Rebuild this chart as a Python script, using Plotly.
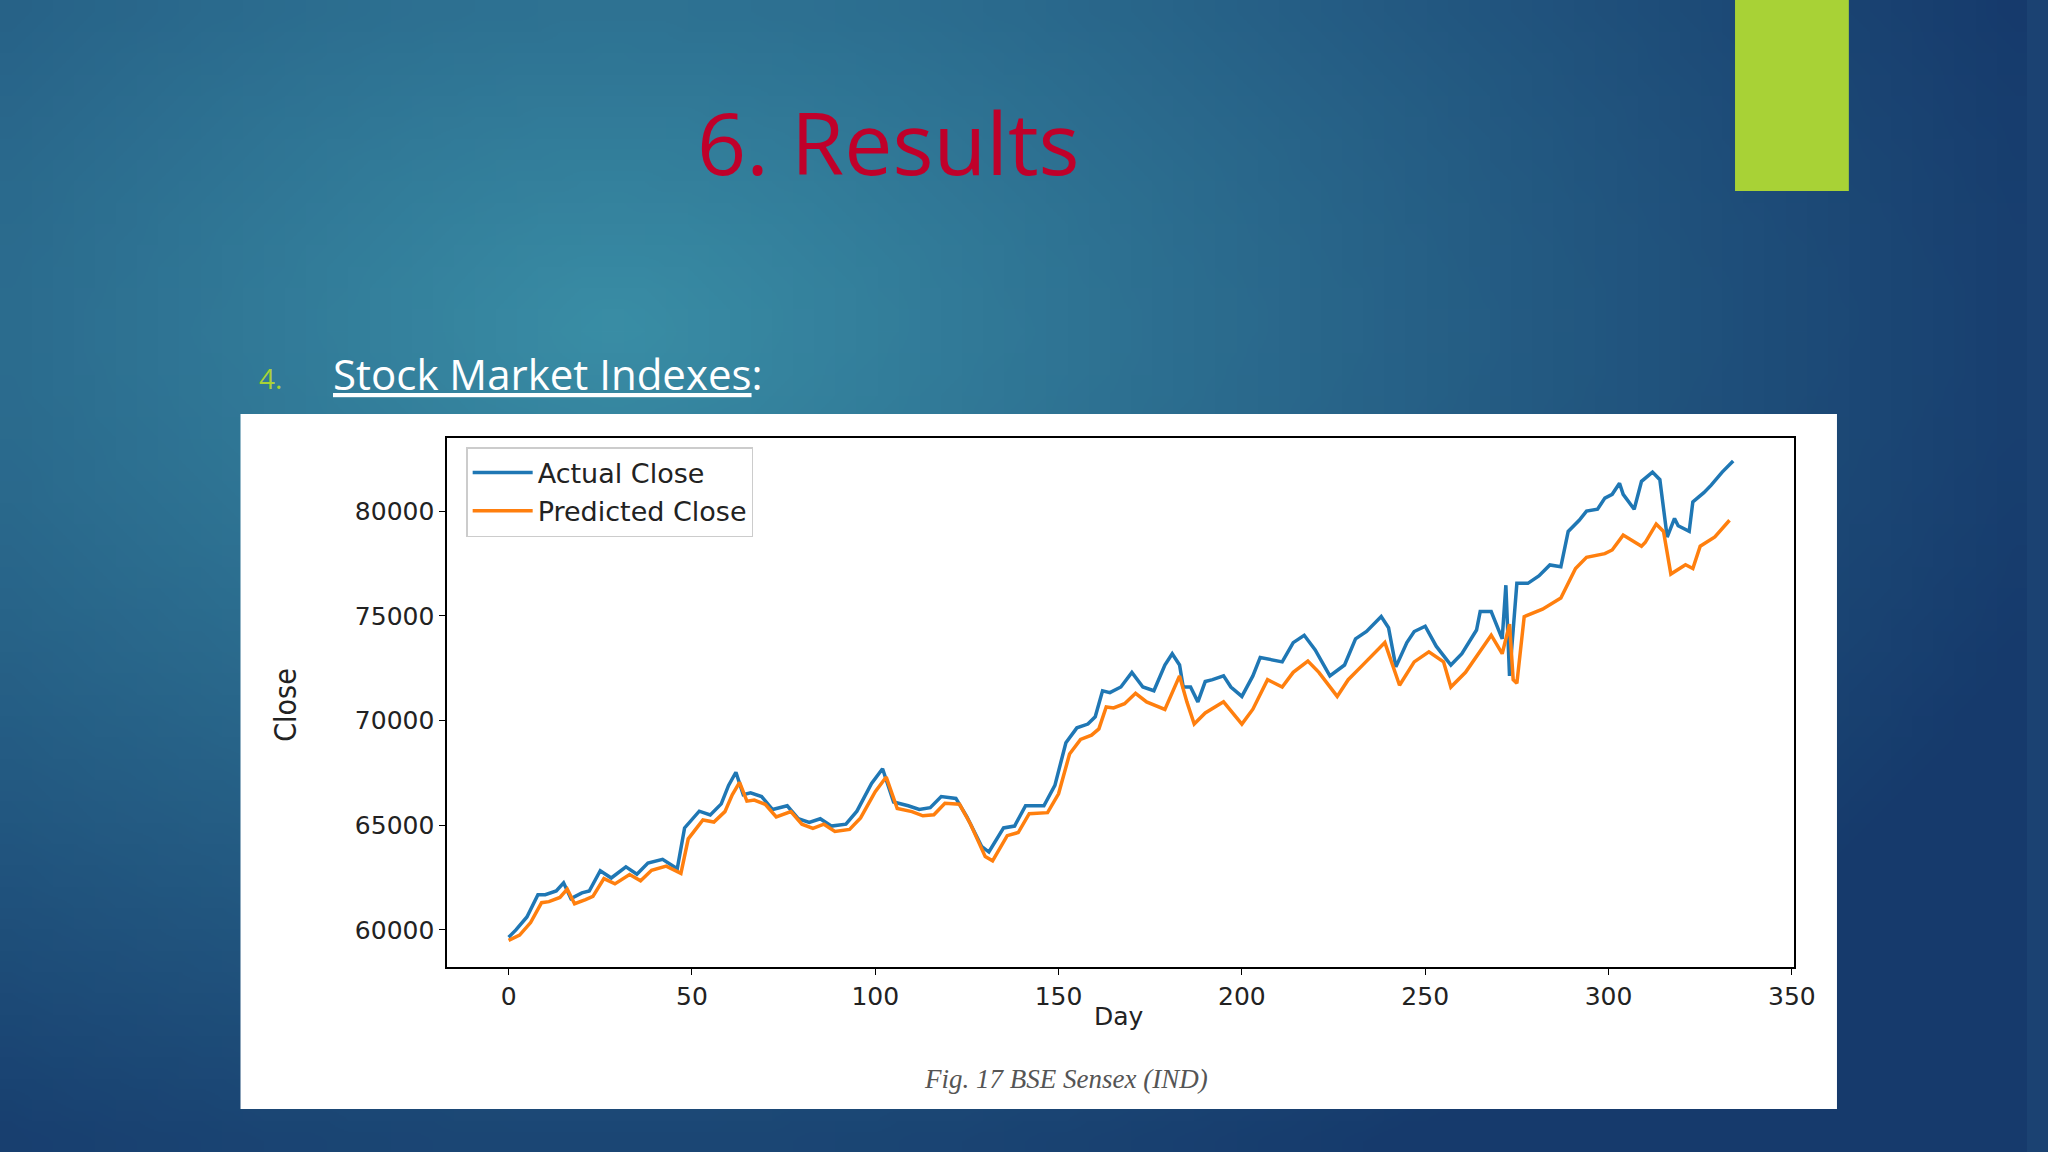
import base64, struct, zlib
import plotly.graph_objects as go

# ---------------- data ----------------
days_actual = [0, 2, 5, 7, 8, 10, 13, 15, 17, 20, 22, 25, 28, 32, 35, 38, 42, 46, 48, 52, 55, 58, 60, 62, 64, 66,
               69, 72, 76, 79, 82, 85, 88, 92, 95, 99, 102, 105, 109, 112, 115, 118, 122, 125, 129, 131, 135, 138,
               141, 146, 149, 152, 155, 158, 160, 162, 164, 167, 170, 173, 176, 179, 181, 183, 184, 186, 188, 190,
               192, 195, 197, 200, 203, 205, 208, 211, 214, 217, 220, 224, 228, 231, 234, 238, 240, 242, 245, 247,
               250, 253, 257, 260, 264, 265, 268, 271, 272, 273, 275, 278, 281, 284, 287, 289, 292, 294, 297, 299,
               301, 303, 304, 307, 309, 312, 314, 316, 318, 319, 322, 323, 326, 328, 331, 334]
actual_close = [59650, 60000, 60620, 61330, 61680, 61680, 61860, 62250, 61500, 61770, 61860, 62830, 62480, 63010,
                62660, 63190, 63370, 62920, 64870, 65670, 65490, 66020, 66900, 67530, 66460, 66550, 66370, 65750,
                65930, 65310, 65130, 65310, 64960, 65050, 65670, 66990, 67700, 66110, 65930, 65750, 65840, 66370,
                66280, 65400, 63990, 63720, 64870, 64960, 65930, 65930, 66900, 68940, 69650, 69830, 70180, 71420,
                71330, 71600, 72300, 71600, 71420, 72650, 73190, 72650, 71600, 71600, 70890, 71860, 71950, 72130,
                71600, 71150, 72130, 73010, 72900, 72800, 73720, 74070, 73370, 72130, 72650, 73900, 74250, 74960,
                74430, 72560, 73720, 74250, 74500, 73550, 72650, 73190, 74320, 75200, 75200, 73900, 76460, 72130,
                76550, 76550, 76900, 77430, 77340, 79030, 79560, 80000, 80090, 80620, 80800, 81330, 80800, 80090,
                81420, 81860, 81500, 78760, 79650, 79300, 79030, 80440, 80880, 81240, 81860, 82390]

days_pred = [0, 3, 6, 8, 9, 11, 14, 16, 18, 21,
             23, 26, 29, 33, 36, 39, 43, 47, 49, 53,
             56, 59, 61, 63, 65, 67, 70, 73, 77, 80,
             83, 86, 89, 93, 96, 100, 103, 106, 110, 113,
             116, 119, 123, 126, 130, 132, 136, 139, 142, 147,
             150, 153, 156, 159, 161, 163, 165, 168, 171, 174,
             179, 183, 185, 187, 190, 195, 200, 203, 207, 211,
             214, 218, 221, 226, 229, 233, 239, 243, 247, 251,
             255, 257, 261, 268, 271, 273, 274, 275, 277, 282,
             287, 291, 294, 299, 301, 304, 309, 310, 313, 315,
             317, 321, 323, 325, 329, 333]
predicted_close = [59500, 59750, 60350, 60950, 61300, 61350, 61550, 61950, 61250, 61450,
                   61600, 62450, 62200, 62650, 62350, 62850, 63050, 62700, 64350, 65250,
                   65150, 65650, 66450, 67050, 66150, 66200, 66000, 65400, 65650, 65050,
                   64850, 65050, 64700, 64800, 65350, 66600, 67300, 65800, 65650, 65450,
                   65500, 66050, 66000, 65050, 63500, 63300, 64500, 64650, 65550, 65600,
                   66500, 68400, 69100, 69300, 69600, 70650, 70600, 70800, 71300, 70890,
                   70530, 72130, 70890, 69830, 70360, 70890, 69830, 70540, 71950, 71600,
                   72300, 72835, 72300, 71150, 71950, 72657, 73720, 71684, 72800, 73277,
                   72800, 71596, 72304, 74074, 73189, 74605, 71950, 71773, 74959, 75313,
                   75844, 77260, 77791, 77968, 78145, 78853, 78322, 78499, 79384, 79030,
                   76994, 77437, 77260, 78322, 78765, 79561]

x_ticks = [0, 50, 100, 150, 200, 250, 300, 350]
y_ticks = [60000, 65000, 70000, 75000, 80000]

# ---------------- background gradient PNG ----------------
W, H = 96, 54
rows = b""
for j in range(H):
    rows += b"\x00"
    for i in range(W):
        u, v = i / (W - 1), j / (H - 1)
        d = (((u - 0.30) / 0.75) ** 2 + ((v - 0.28) / 0.85) ** 2) ** 0.5
        t = min(1.0, d)
        r = int(58 + (22 - 58) * t)
        g = int(142 + (58 - 142) * t)
        b = int(166 + (108 - 166) * t)
        rows += bytes([r, g, b])
def chunk(tag, data):
    return struct.pack(">I", len(data)) + tag + data + struct.pack(">I", zlib.crc32(tag + data) & 0xffffffff)
png = b"\x89PNG\r\n\x1a\n" + chunk(b"IHDR", struct.pack(">IIBBBBB", W, H, 8, 2, 0, 0, 0)) + \
      chunk(b"IDAT", zlib.compress(rows)) + chunk(b"IEND", b"")
bg_uri = "data:image/png;base64," + base64.b64encode(png).decode()

# ---------------- figure ----------------
fig = go.Figure()
fig.add_trace(go.Scatter(x=days_actual, y=actual_close, mode="lines", name="Actual Close",
                         line=dict(color="#1f77b4", width=3.5)))
fig.add_trace(go.Scatter(x=days_pred, y=predicted_close, mode="lines", name="Predicted Close",
                         line=dict(color="#ff7f0e", width=3.5)))

PW, PH = 2048, 1152
def px(x): return x / PW
def py(y): return 1 - y / PH

axis_common = dict(showgrid=False, zeroline=False, showline=True, linecolor="black", linewidth=2,
                   mirror=True, ticks="outside", ticklen=6, tickcolor="black", tickformat="d",
                   tickfont=dict(family="DejaVu Sans", size=25, color="#222"))
fig.update_layout(
    autosize=True, margin=dict(l=0, r=0, t=0, b=0),
    paper_bgcolor="#1b4272", plot_bgcolor="white",
    xaxis=dict(domain=[px(452), px(1813)], range=[-16.7, 350.7], tickvals=x_ticks, **axis_common),
    yaxis=dict(domain=[py(967), py(438)], range=[58230, 83490], tickvals=y_ticks, **axis_common),
    showlegend=True,
    legend=dict(x=px(471), y=py(447), xanchor="left", yanchor="top", bgcolor="white",
                bordercolor="#cccccc", borderwidth=1.5, tracegroupgap=0,
                font=dict(family="DejaVu Sans", size=27, color="#222"), itemwidth=60),
    images=[dict(source=bg_uri, xref="paper", yref="paper", x=0, y=1, sizex=1, sizey=1,
                 sizing="stretch", layer="below", xanchor="left", yanchor="top")],
    shapes=[
        dict(type="rect", xref="paper", yref="paper", x0=px(243), x1=px(1856), y0=py(1109), y1=py(414),
             fillcolor="white", line=dict(width=0), layer="below"),
        dict(type="rect", xref="paper", yref="paper", x0=px(1753), x1=px(1868), y0=py(191), y1=1,
             fillcolor="#A8D236", line=dict(width=0)),
    ],
    annotations=[
        dict(text="6. Results", x=px(898), y=py(141), font=dict(family="Open Sans", size=86, color="#C0002A")),
        dict(text="4.", x=px(260), y=py(378), xanchor="left",
             font=dict(family="Open Sans", size=28, color="#A8D236")),
        dict(text="<u>Stock Market Indexes</u>:", x=px(334), y=py(373), xanchor="left",
             font=dict(family="Open Sans", size=42, color="white")),
        dict(text="Day", x=px(1131), y=py(1016), font=dict(family="DejaVu Sans", size=25, color="#222")),
        dict(text="Close", x=px(268), y=py(705), textangle=-90,
             font=dict(family="Liberation Sans Narrow, DejaVu Sans Condensed", size=30, color="#222")),
        dict(text="<i>Fig. 17 BSE Sensex (IND)</i>", x=px(1077), y=py(1079),
             font=dict(family="Liberation Serif", size=27, color="#555")),
    ],
)
fig.update_annotations(xref="paper", yref="paper", showarrow=False, yanchor="middle")
fig.write_html("out.html", config={"displayModeBar": False, "responsive": True},
               default_width="100vw", default_height="100vh",
               post_script="document.documentElement.style.overflow='hidden';"
                           "document.documentElement.style.background='#17396a';"
                           "document.body.style.overflow='hidden';document.body.style.margin='0';"
                           "Plotly.Plots.resize(document.getElementById('{plot_id}'));")
